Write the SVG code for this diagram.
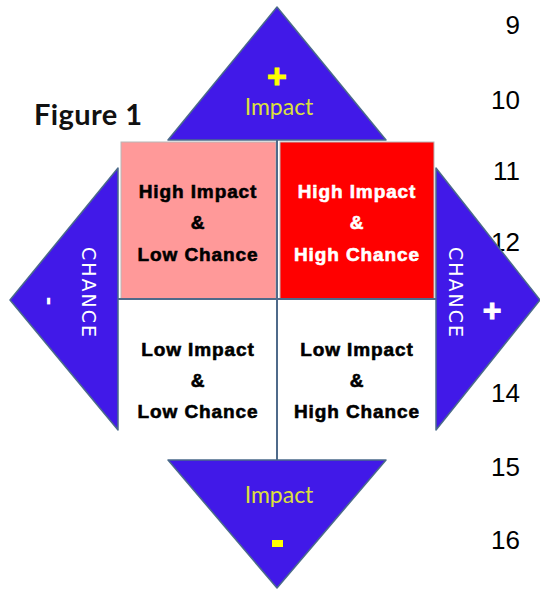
<svg xmlns="http://www.w3.org/2000/svg" width="540" height="590" viewBox="0 0 540 590">
<style>
.tri{fill:#4119E8;stroke:#4A6A8A;stroke-width:1.5;stroke-linejoin:round}
.num{font-family:"Liberation Sans",Arial,sans-serif;font-size:26px;fill:#000;text-anchor:end}
.cell{font-family:"Liberation Sans",Arial,sans-serif;font-size:19px;font-weight:bold;text-anchor:middle;letter-spacing:0.9px;stroke-width:0.6px}
.blk{fill:#000;stroke:#000}
.wht{fill:#fff;stroke:#fff}
.lbl{font-family:Lato,"Open Sans",sans-serif;font-size:23px;text-anchor:middle;fill:#DCE03C}
.ch{font-family:"DejaVu Sans",sans-serif;font-size:19px;fill:#fff;text-anchor:middle;letter-spacing:2px}
.axis{stroke:#4F6A8A;stroke-width:2;fill:none}
</style>
<rect width="540" height="590" fill="#fff"/>
<g id="line-numbers">
<text class="num" x="520" y="34">9</text>
<text class="num" x="520" y="109">10</text>
<text class="num" x="520" y="180">11</text>
<text class="num" x="520" y="251">12</text>
<text class="num" x="520" y="402">14</text>
<text class="num" x="520" y="476">15</text>
<text class="num" x="520" y="549">16</text>
</g>
<text id="figure-title" x="34" y="125" font-family="Lato,'Open Sans',sans-serif" font-size="29" font-weight="bold" fill="#111" textLength="108">Figure 1</text>
<g id="quad-hi-lo">
<rect x="121" y="142" width="155" height="157" fill="#FF9999" stroke="#B8B8B8" stroke-width="1"/>
<text class="cell blk" x="198" y="198">High Impact</text>
<text class="cell blk" x="198" y="229">&amp;</text>
<text class="cell blk" x="198" y="261">Low Chance</text>
</g>
<g id="quad-hi-hi">
<rect x="280" y="142" width="154" height="157" fill="#FF0000" stroke="#B8B8B8" stroke-width="1"/>
<text class="cell wht" x="357" y="198">High Impact</text>
<text class="cell wht" x="357" y="229">&amp;</text>
<text class="cell wht" x="357" y="261">High Chance</text>
</g>
<g id="quad-lo-lo">
<text class="cell blk" x="198" y="356">Low Impact</text>
<text class="cell blk" x="198" y="387">&amp;</text>
<text class="cell blk" x="198" y="418">Low Chance</text>
</g>
<g id="quad-lo-hi">
<text class="cell blk" x="357" y="356">Low Impact</text>
<text class="cell blk" x="357" y="387">&amp;</text>
<text class="cell blk" x="357" y="418">High Chance</text>
</g>
<g id="connectors">
<line class="axis" x1="277" y1="140" x2="277" y2="460"/>
<line class="axis" x1="118" y1="299" x2="436" y2="299"/>
</g>
<g id="impact-plus">
<polygon class="tri" points="277,7 168,140 386,140"/>
<text x="277" y="88" text-anchor="middle" font-family="'Liberation Sans',Arial,sans-serif" font-size="34" font-weight="bold" fill="#FFFF00" stroke="#FFFF00" stroke-width="1">+</text>
<text class="lbl" x="279" y="115">Impact</text>
</g>
<g id="impact-minus">
<polygon class="tri" points="168,460 386,460 277,588"/>
<text class="lbl" x="279" y="503">Impact</text>
<rect x="272" y="540" width="11" height="7" fill="#FFFF00"/>
</g>
<g id="chance-minus">
<polygon class="tri" points="118,168 118,430 10,300"/>
<text class="ch" transform="translate(82,293) rotate(90)">CHANCE</text>
<text transform="translate(42,301) rotate(90)" text-anchor="middle" font-family="'Liberation Sans',Arial,sans-serif" font-size="26" font-weight="bold" fill="#fff">-</text>
</g>
<g id="chance-plus">
<polygon class="tri" points="436,168 436,430 540,300"/>
<text class="ch" transform="translate(449,293) rotate(90)">CHANCE</text>
<text x="492" y="321" text-anchor="middle" font-family="'Liberation Sans',Arial,sans-serif" font-size="32" font-weight="bold" fill="#fff" stroke="#fff" stroke-width="1">+</text>
</g>
</svg>
